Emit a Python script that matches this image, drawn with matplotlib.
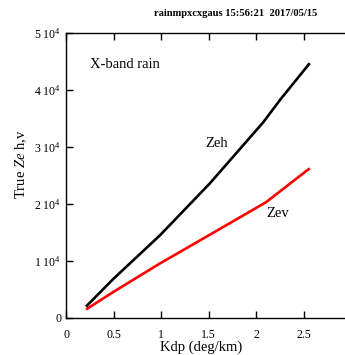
import matplotlib
matplotlib.use("Agg")
import matplotlib.pyplot as plt
from matplotlib.ticker import FuncFormatter

plt.rcParams['font.family'] = ['Liberation Serif', 'DejaVu Serif']
plt.rcParams['mathtext.fontset'] = 'custom'
plt.rcParams['mathtext.rm'] = 'Liberation Serif'
plt.rcParams['mathtext.it'] = 'Liberation Serif:italic'

# curves
kdp_h = [0.21, 0.5, 0.99, 1.51, 2.07, 2.25, 2.56]
zeh = [2000, 6900, 14560, 23600, 34300, 38300, 44700]
kdp_v = [0.21, 0.5, 0.99, 1.51, 2.1, 2.56]
zev = [1500, 4600, 9600, 14600, 20300, 26260]

xticks = [0, 0.5, 1, 1.5, 2, 2.5]
xticklabels = ["0", "0.5", "1", "1.5", "2", "2.5"]
yticks = [0, 10000, 20000, 30000, 40000, 50000]

fig = plt.figure(figsize=(3.45, 3.55), dpi=100)
ax = fig.add_axes([66/345, 37/355, 285.6/345, 285/355])

ax.plot(kdp_h, zeh, color='black', lw=1.9, solid_capstyle='butt')
ax.plot(kdp_v, zev, color='red', lw=1.9, solid_capstyle='butt')

ax.set_xlim(0, 3)
ax.set_ylim(0, 50000)
ax.set_xticks(xticks)
ax.set_xticklabels(xticklabels)
ax.set_yticks(yticks)


def yfmt(v, pos):
    n = int(round(v / 10000))
    if n == 0:
        return "0"
    return "%d $10^4$" % n


ax.yaxis.set_major_formatter(FuncFormatter(yfmt))
ax.tick_params(direction='in', length=5, width=1, labelsize=8.5, top=True, right=True)
ax.tick_params(axis='x', pad=8)
for s in ax.spines.values():
    s.set_linewidth(1)

ax.set_xlabel("Kdp (deg/km)", fontsize=10.5)
ax.xaxis.set_label_coords((201 - 66) / 285.6, -(347 - 318) / 285, transform=ax.transAxes)
ax.set_ylabel("True $Ze$ h,v", fontsize=10.5)
ax.yaxis.set_label_coords(-(66 - 21) / 285.6, (318 - 164) / 285, transform=ax.transAxes)
ax.xaxis.label.set_va('center')
ax.yaxis.label.set_va('center')

ax.text(0.25, 44560, "X-band rain", fontsize=10.5, va='center')
ax.text(1.46, 30700, "Zeh", fontsize=10.5, va='center')
ax.text(2.10, 18400, "Zev", fontsize=10.5, va='center')

fig.text(236/345, 1 - 14/355, "rainmpxcxgaus 15:56:21  2017/05/15",
         fontsize=7.6, fontweight='bold', ha='center', va='center')

fig.savefig("out.png", dpi=100)
